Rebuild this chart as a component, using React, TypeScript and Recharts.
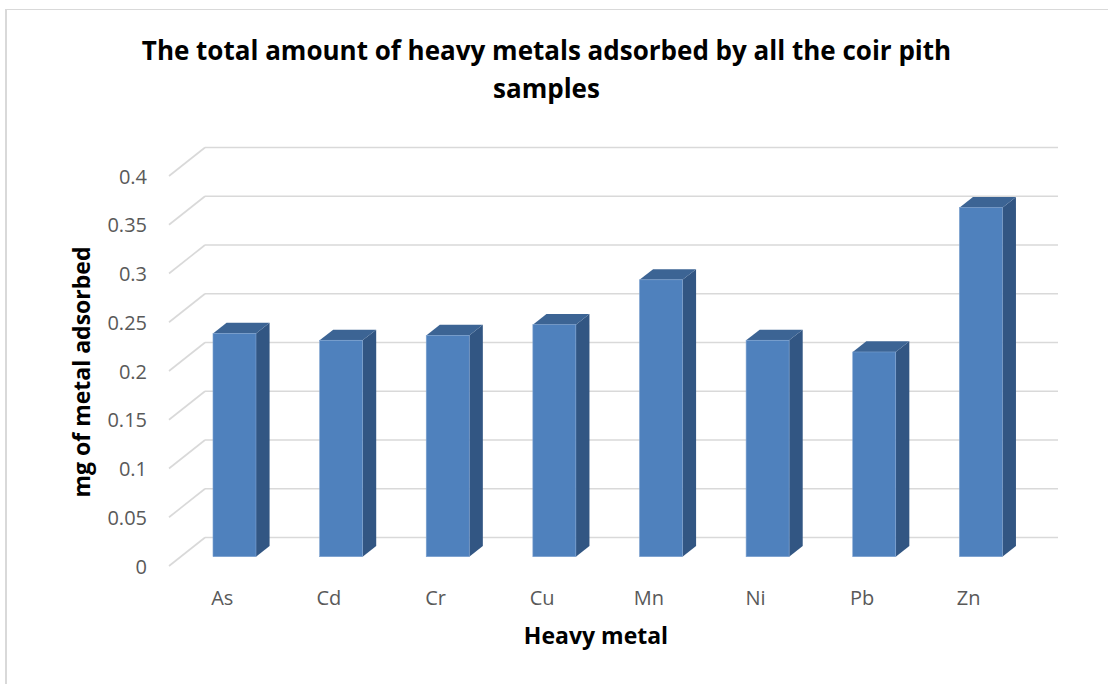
import { BarChart, Bar, XAxis, YAxis, CartesianGrid } from "recharts";

const metals = ["As", "Cd", "Cr", "Cu", "Mn", "Ni", "Pb", "Zn"];
const adsorbed = [0.229, 0.222, 0.227, 0.238, 0.284, 0.222, 0.21, 0.358];
const yTicks = [0, 0.05, 0.1, 0.15, 0.2, 0.25, 0.3, 0.35, 0.4];

const data = metals.map((metal, i) => ({ metal, value: adsorbed[i] }));

// oblique 3D offsets (back wall and bar placement)
const WALL_DX = 36;
const WALL_DY = -28.5;
const BAR_DX = 12;
const BAR_DY = -9.3;
const DEPTH_DX = 13.6;
const DEPTH_DY = -10.6;

const FONT = "'Open Sans', sans-serif";
const GRID = "#d9d9d9";

function GridLine(props: any) {
    const { x1, x2, y1 } = props;
    return (
        <g key={props.key}>
            <line x1={x1} y1={y1} x2={x1 + WALL_DX} y2={y1 + WALL_DY} stroke={GRID} strokeWidth={1.6} />
            <line x1={x1 + WALL_DX} y1={y1 + WALL_DY} x2={x2 + WALL_DX} y2={y1 + WALL_DY} stroke={GRID} strokeWidth={1.6} />
        </g>
    );
}

function Bar3D(props: any) {
    const { x, y, width, height } = props;
    if (!height) return null;
    const fx = x + BAR_DX;
    const fy = y + BAR_DY;
    const w = width;
    const h = height;
    const top = `${fx},${fy} ${fx + DEPTH_DX},${fy + DEPTH_DY} ${fx + w + DEPTH_DX},${fy + DEPTH_DY} ${fx + w},${fy}`;
    const side = `${fx + w},${fy} ${fx + w + DEPTH_DX},${fy + DEPTH_DY} ${fx + w + DEPTH_DX},${fy + h + DEPTH_DY} ${fx + w},${fy + h}`;
    return (
        <g>
            <polygon points={side} fill="#325683" />
            <polygon points={top} fill="#3c6494" />
            <rect x={fx} y={fy} width={w} height={h} fill="#4f81bd" stroke="#7ea2d0" strokeWidth={0.6} />
        </g>
    );
}

function YTick(props: any) {
    const { y, payload } = props;
    return (
        <text x={147} y={y} textAnchor="end" dominantBaseline="central" fill="#595959" fontSize={20} fontFamily={FONT}>
            {String(payload.value)}
        </text>
    );
}

function XTick(props: any) {
    const { x, payload } = props;
    return (
        <text x={x} y={597} textAnchor="middle" dominantBaseline="central" fill="#595959" fontSize={20} fontFamily={FONT}>
            {payload.value}
        </text>
    );
}

export default function App() {
    return (
        <div style={{ position: "absolute", left: 0, top: 0, width: 1108, height: 684, background: "#fff", overflow: "hidden" }}>
            <div
                style={{
                    position: "absolute",
                    left: 5,
                    top: 9,
                    width: 1103,
                    height: 675,
                    boxSizing: "border-box",
                    borderLeft: "2px solid #d9d9d9",
                    borderTop: "1px solid #d9d9d9",
                }}
            />
            <BarChart
                width={1108}
                height={684}
                data={data}
                margin={{ top: 176, right: 86, left: 109, bottom: 58 }}
                barCategoryGap="30%"
            >
                <CartesianGrid vertical={false} horizontal={GridLine} />
                <XAxis dataKey="metal" height={60} axisLine={false} tickLine={false} tick={XTick} interval={0} />
                <YAxis
                    width={60}
                    domain={[0, 0.4]}
                    ticks={yTicks}
                    axisLine={false}
                    tickLine={false}
                    tick={YTick}
                    allowDataOverflow
                />
                <Bar dataKey="value" shape={Bar3D} isAnimationActive={false} />
            </BarChart>
            <div
                style={{
                    position: "absolute",
                    left: 0,
                    width: 1093,
                    top: 31,
                    textAlign: "center",
                    fontFamily: FONT,
                    fontWeight: 700,
                    fontSize: 26,
                    lineHeight: "38px",
                    color: "#000",
                }}
            >
                The total amount of heavy metals adsorbed by all the coir pith
                <br />
                samples
            </div>
            <div
                style={{
                    position: "absolute",
                    left: 596 - 150,
                    width: 300,
                    top: 620,
                    textAlign: "center",
                    fontFamily: FONT,
                    fontWeight: 700,
                    fontSize: 23,
                    lineHeight: "30px",
                    color: "#000",
                }}
            >
                Heavy metal
            </div>
            <div
                style={{
                    position: "absolute",
                    left: 81 - 150,
                    width: 300,
                    top: 372 - 15,
                    textAlign: "center",
                    fontFamily: FONT,
                    fontWeight: 700,
                    fontSize: 23,
                    lineHeight: "30px",
                    color: "#000",
                    transform: "rotate(-90deg)",
                }}
            >
                mg of metal adsorbed
            </div>
        </div>
    );
}
